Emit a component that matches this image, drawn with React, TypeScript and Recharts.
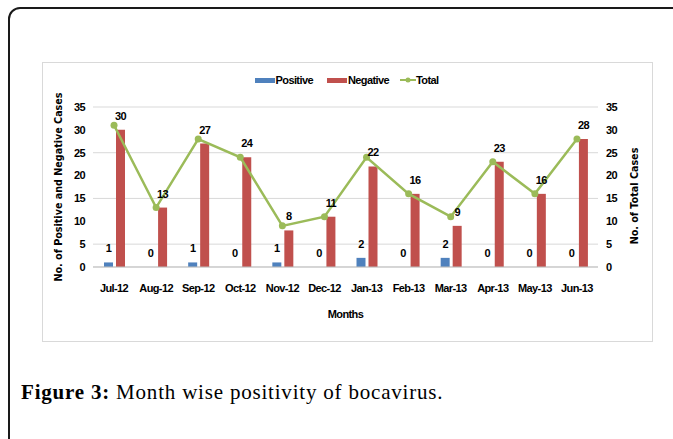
import React from "react";
import {
  ComposedChart,
  Bar,
  Line,
  XAxis,
  YAxis,
  CartesianGrid,
  Legend,
  LabelList,
  Label,
} from "recharts";

const MONTHS = [
  "Jul-12", "Aug-12", "Sep-12", "Oct-12", "Nov-12", "Dec-12",
  "Jan-13", "Feb-13", "Mar-13", "Apr-13", "May-13", "Jun-13",
];
const POSITIVE = [1, 0, 1, 0, 1, 0, 2, 0, 2, 0, 0, 0];
const NEGATIVE = [30, 13, 27, 24, 8, 11, 22, 16, 9, 23, 16, 28];
const TOTAL = [31, 13, 28, 24, 9, 11, 24, 16, 11, 23, 16, 28];
const Y_TICKS = [0, 5, 10, 15, 20, 25, 30, 35];

const BLUE = "#4f81bd";
const RED = "#c0504d";
const GREEN = "#9bbb59";
const NARROW = "'Liberation Sans Narrow', 'Liberation Sans', Arial, sans-serif";
const TITLE_FONT = "'DejaVu Sans', Verdana, sans-serif";

const data = MONTHS.map((m, i) => ({
  month: m,
  positive: POSITIVE[i],
  negative: NEGATIVE[i],
  total: TOTAL[i],
}));

const tickStyle = {
  fontSize: 11,
  fontWeight: 700,
  fontFamily: NARROW,
  fill: "#000",
  letterSpacing: -0.6,
};

function LegendContent() {
  const item = { display: "flex", alignItems: "center" } as const;
  return (
    <div
      style={{
        display: "flex",
        justifyContent: "center",
        alignItems: "center",
        fontFamily: NARROW,
        fontWeight: 700,
        fontSize: 11,
        letterSpacing: -0.6,
        lineHeight: "12px",
        color: "#000",
      }}
    >
      <div style={item}>
        <span style={{ width: 20, height: 5, background: BLUE, display: "inline-block", marginRight: 1 }} />
        <span>Positive</span>
      </div>
      <div style={{ ...item, marginLeft: 14 }}>
        <span style={{ width: 20, height: 5, background: RED, display: "inline-block", marginRight: 1 }} />
        <span>Negative</span>
      </div>
      <div style={{ ...item, marginLeft: 11 }}>
        <svg width={16} height={8}>
          <line x1={0} y1={4} x2={16} y2={4} stroke={GREEN} strokeWidth={2} />
          <circle cx={8} cy={4} r={2.5} fill={GREEN} />
        </svg>
        <span>Total</span>
      </div>
    </div>
  );
}

// value label above a bar
const barLabel = (p: any) => {
  if (p.value == null) return null;
  return (
    <text
      x={p.x + p.width / 2}
      y={p.y - 10}
      textAnchor="middle"
      fontSize={11}
      fontWeight={700}
      fontFamily={NARROW}
      letterSpacing={-0.6}
      fill="#000"
    >
      {p.value}
    </text>
  );
};

const leftTitle = (props: any) => {
  const vb = props.viewBox;
  const x = vb.x + 16;
  const y = vb.y + vb.height / 2;
  return (
    <text
      x={x}
      y={y}
      transform={`rotate(-90, ${x}, ${y})`}
      textAnchor="middle"
      dominantBaseline="central"
      fontFamily={TITLE_FONT}
      fontWeight={700}
      fontSize={9.6}
      fill="#000"
    >
      No. of Positive and Negative Cases
    </text>
  );
};

const rightTitle = (props: any) => {
  const vb = props.viewBox;
  const x = vb.x + 36;
  const y = vb.y + vb.height / 2 + 9;
  return (
    <text
      x={x}
      y={y}
      transform={`rotate(-90, ${x}, ${y})`}
      textAnchor="middle"
      dominantBaseline="central"
      fontFamily={TITLE_FONT}
      fontWeight={700}
      fontSize={9.6}
      fill="#000"
    >
      No. of Total Cases
    </text>
  );
};

const xTitle = (props: any) => {
  const vb = props.viewBox;
  return (
    <text
      x={vb.x + vb.width / 2}
      y={vb.y + 47}
      textAnchor="middle"
      dominantBaseline="central"
      fontFamily={NARROW}
      fontWeight={700}
      fontSize={11}
      letterSpacing={-0.6}
      fill="#000"
    >
      Months
    </text>
  );
};

export default function App() {
  return (
    <div
      style={{
        position: "absolute",
        left: 0,
        top: 0,
        width: 673,
        height: 439,
        overflow: "hidden",
        background: "#fff",
      }}
    >
      {/* outer frame, runs off the right and bottom edges */}
      <div
        style={{
          position: "absolute",
          left: 8,
          top: 7,
          width: 720,
          height: 480,
          border: "2px solid #1a1a1a",
          borderTopLeftRadius: 12,
        }}
      />
      {/* chart box */}
      <div
        style={{
          position: "absolute",
          left: 42,
          top: 62,
          width: 611,
          height: 280,
          boxSizing: "border-box",
          border: "1px solid #d9d9d9",
        }}
      >
        <ComposedChart
          width={609}
          height={278}
          data={data}
          margin={{ top: 45, right: 0, bottom: 13, left: 0 }}
          barSize={9}
          barGap={3}
          style={{ position: "absolute", left: -1, top: -1 }}
        >
          <CartesianGrid vertical={false} stroke="#d9d9d9" yAxisId="left" />
          <XAxis
            dataKey="month"
            height={60}
            tick={tickStyle}
            tickLine={false}
            tickMargin={11}
            axisLine={{ stroke: "#bfbfbf" }}
            interval={0}
          >
            <Label content={xTitle} />
          </XAxis>
          <YAxis
            yAxisId="left"
            width={51}
            domain={[0, 35]}
            ticks={Y_TICKS}
            tick={tickStyle}
            tickLine={false}
            axisLine={false}
          >
            <Label content={leftTitle} />
          </YAxis>
          <YAxis
            yAxisId="right"
            orientation="right"
            width={53}
            domain={[0, 35]}
            ticks={Y_TICKS}
            tick={tickStyle}
            tickLine={false}
            axisLine={false}
          >
            <Label content={rightTitle} />
          </YAxis>
          <Legend
            verticalAlign="middle"
            align="center"
            content={<LegendContent />}
            wrapperStyle={{ top: 12, left: 0, width: 609 }}
          />
          <Bar
            yAxisId="left"
            dataKey="positive"
            fill={BLUE}
            minPointSize={0.01}
            isAnimationActive={false}
          >
            <LabelList dataKey="positive" content={barLabel} />
          </Bar>
          <Bar yAxisId="left" dataKey="negative" fill={RED} isAnimationActive={false}>
            <LabelList dataKey="negative" content={barLabel} />
          </Bar>
          <Line
            yAxisId="right"
            dataKey="total"
            stroke={GREEN}
            strokeWidth={2.5}
            dot={{ r: 3.5, fill: GREEN, stroke: GREEN, strokeWidth: 0 }}
            isAnimationActive={false}
          />
        </ComposedChart>
      </div>
      <div
        style={{
          position: "absolute",
          left: 21,
          top: 380,
          fontFamily: "'Liberation Serif', 'DejaVu Serif', serif",
          fontSize: 21,
          letterSpacing: 0.8,
          color: "#000",
          whiteSpace: "nowrap",
        }}
      >
        <b>Figure 3:</b> Month wise positivity of bocavirus.
      </div>
    </div>
  );
}
